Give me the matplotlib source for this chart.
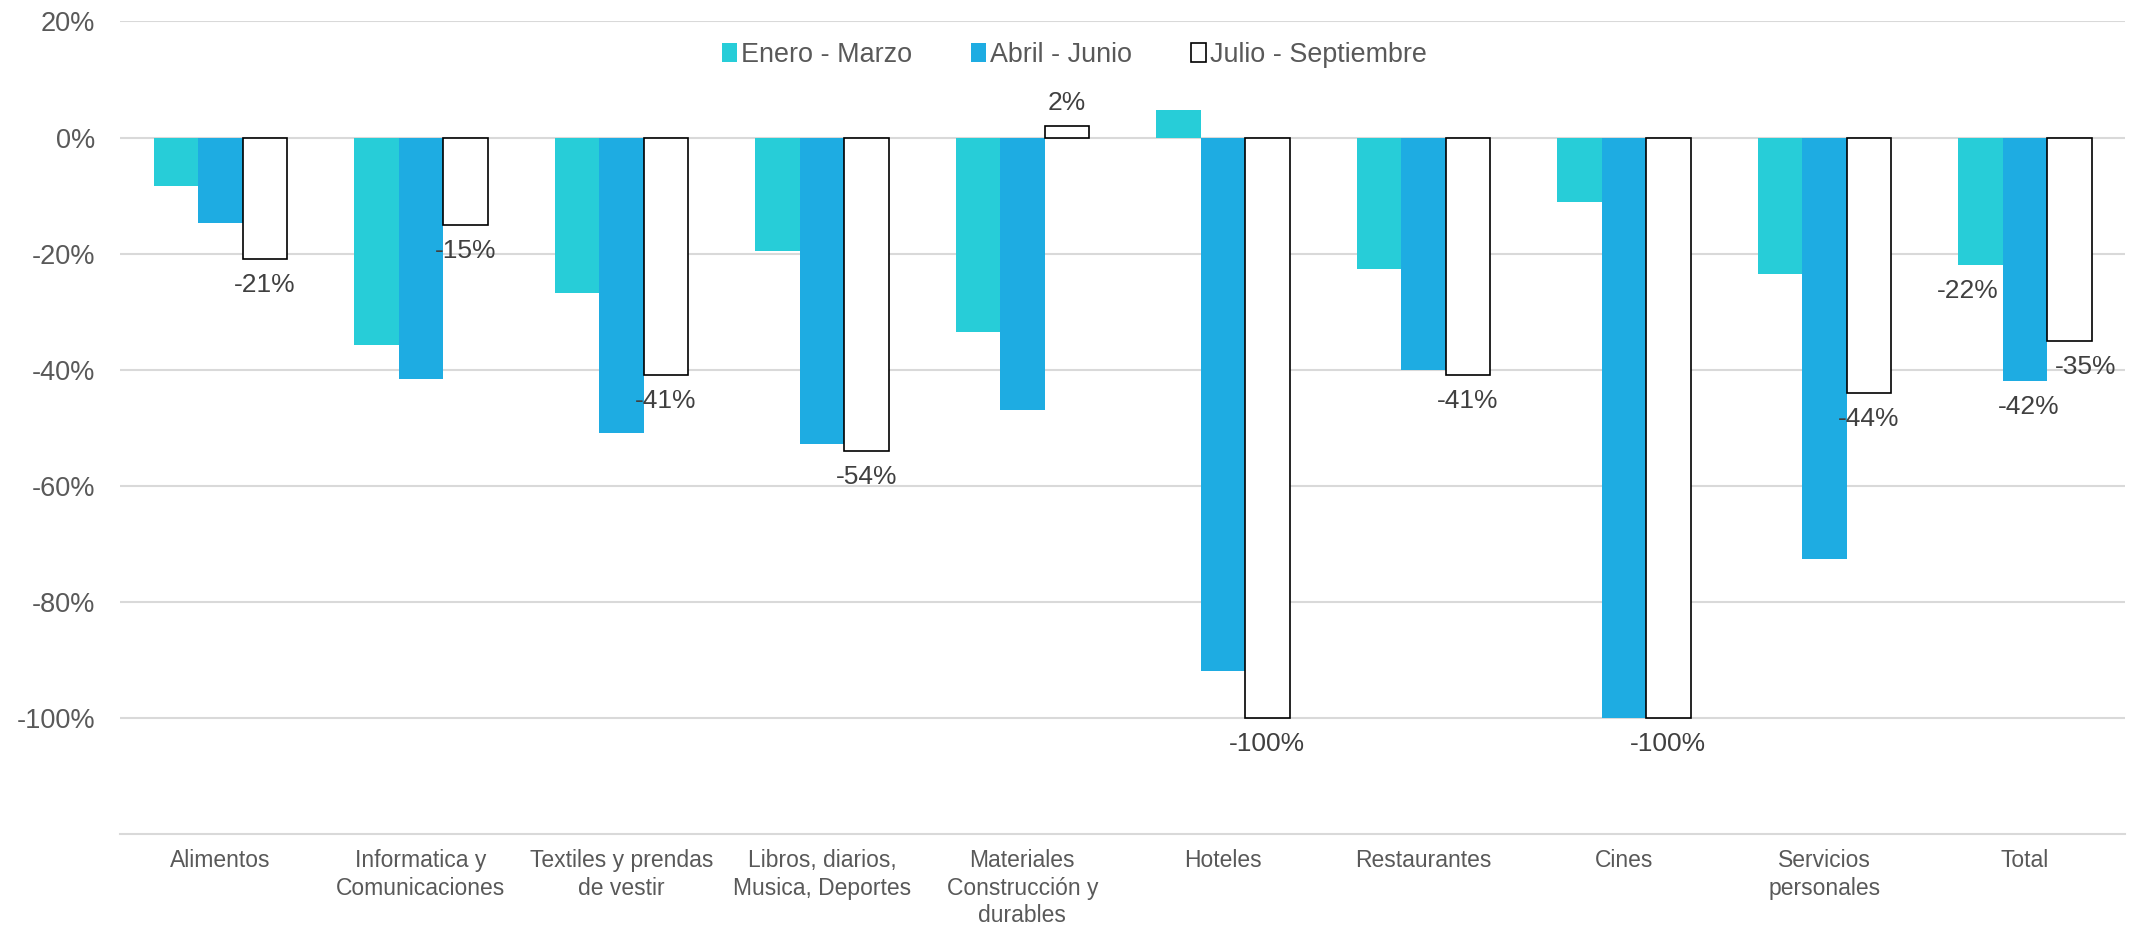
import numpy as np
import matplotlib
matplotlib.use("Agg")
import matplotlib.pyplot as plt
from matplotlib.patches import Patch

plt.rcParams["font.family"] = ["Liberation Sans", "DejaVu Sans"]

# Datos (variacion %)
categorias = [
    "Alimentos",
    "Informatica y\nComunicaciones",
    "Textiles y prendas\nde vestir",
    "Libros, diarios,\nMusica, Deportes",
    "Materiales\nConstrucción y\ndurables",
    "Hoteles",
    "Restaurantes",
    "Cines",
    "Servicios\npersonales",
    "Total",
]
series = ["Enero - Marzo", "Abril - Junio", "Julio - Septiembre"]
ene_mar = [-8.4, -35.8, -26.8, -19.5, -33.6, 4.7, -22.6, -11.1, -23.5, -22]
abr_jun = [-14.7, -41.7, -51, -52.8, -47, -92, -40.1, -100, -72.6, -42]
jul_sep = [-21, -15, -41, -54, 2, -100, -41, -100, -44, -35]

c_ene = "#27CDD8"
c_abr = "#1EACE2"
c_txt = "#595959"
c_lbl = "#404040"

fig = plt.figure(figsize=(21.36, 9.25), dpi=100)
ax = fig.add_axes([0.0562, 0.0986, 0.9387, 0.8782])

x = np.arange(len(categorias))
w = 0.222

ax.bar(x - w, ene_mar, w, color=c_ene, zorder=2)
ax.bar(x, abr_jun, w, color=c_abr, zorder=2)
ax.bar(x + w, jul_sep, w, color="white", edgecolor="black", linewidth=1.2, zorder=2)

def etiqueta(xp, v, dx=0):
    off = 16.5 if v >= 0 else -18.7
    ax.annotate(f"{v:.0f}%", (xp, v), xytext=(dx, off), textcoords="offset points",
                ha="center", va="center", fontsize=19, color=c_lbl, zorder=3)

for i, v in enumerate(jul_sep):
    dx = 12 if i == len(categorias) - 1 else 0
    etiqueta(x[i] + w, v, dx)

# Total: etiquetas de los tres periodos
etiqueta(x[-1] - w, ene_mar[-1], -9)
etiqueta(x[-1], abr_jun[-1], 3)

ax.set_xlim(-0.5, len(categorias) - 0.5)
ax.set_ylim(-120, 20)
ax.set_yticks(np.arange(-100, 21, 20))
ax.set_yticklabels([f"{t}%" for t in range(-100, 21, 20)])
ax.set_xticks(x)
ax.set_xticklabels(categorias, linespacing=1.25)

ax.grid(axis="y", color="#D9D9D9", linewidth=1.5, zorder=0)
ax.set_axisbelow(True)
for s in ["top", "right", "left"]:
    ax.spines[s].set_visible(False)
ax.spines["bottom"].set_color("#D9D9D9")
ax.spines["bottom"].set_linewidth(1.5)

ax.tick_params(axis="y", length=0, pad=18, labelsize=19.5, labelcolor=c_txt)
ax.tick_params(axis="x", length=0, pad=11, labelsize=16.5, labelcolor=c_txt)

handles = [
    Patch(facecolor=c_ene, edgecolor="none"),
    Patch(facecolor=c_abr, edgecolor="none"),
    Patch(facecolor="white", edgecolor="black", linewidth=1.2),
]
fig.legend(handles, series, loc="center", bbox_to_anchor=(0.503, 0.941), ncol=3,
           frameon=False, fontsize=19.4, labelcolor=c_txt, handlelength=0.55,
           handleheight=0.72, handletextpad=0.15, columnspacing=2.2)

fig.savefig("out.png", dpi=100)
